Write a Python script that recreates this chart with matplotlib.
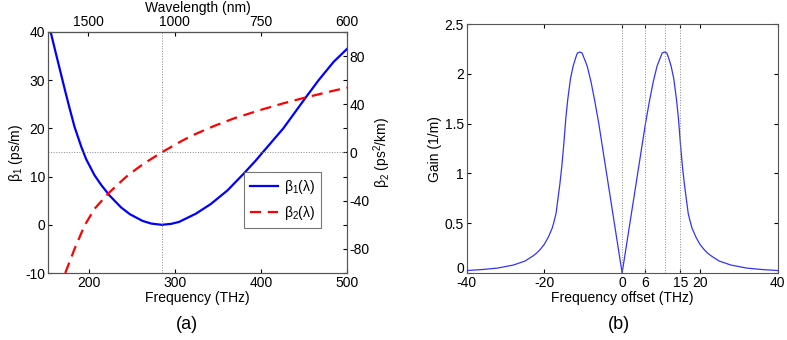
import matplotlib
matplotlib.use("Agg")
import matplotlib.pyplot as plt
import matplotlib.transforms as mtransforms

plt.rcParams['font.family'] = ['Liberation Sans', 'DejaVu Sans']
plt.rcParams['font.size'] = 10
plt.rcParams['axes.unicode_minus'] = False
plt.rcParams['mathtext.fontset'] = 'custom'
plt.rcParams['mathtext.rm'] = 'Liberation Sans'

# (a) dispersion
freq_b1 = [155, 160.7, 166.5, 172.3, 178, 183.8, 191.6, 197.3, 206.9, 215, 224.3, 237.8,
           248, 262.8, 273, 285, 296, 305, 324.5, 341.8, 361, 380, 393.9, 402,
           426, 452, 467, 484.4, 500]
beta1 = [40.8, 36.6, 32.4, 28.2, 24.2, 20.3, 16.2, 13.6, 10.3, 8.2, 6.1, 3.6,
         2.2, 0.8, 0.25, 0.0, 0.2, 0.6, 2.3, 4.3, 7.1, 10.6, 13.3, 15.0,
         20.0, 26.4, 30.0, 33.8, 36.5]
freq_b2 = [173, 183.8, 195.4, 207, 224.3, 241.6, 247.4, 260.9, 266.7, 284.7, 303.2, 309,
           322.5, 345.7, 368.8, 399.6, 426.6, 451.7, 476.9, 500]
beta2 = [-100, -80, -60.6, -46.7, -33, -21.5, -18, -10.9, -8.1, 0, 7.6, 9.9,
         14.8, 22.0, 28.3, 35.3, 40.9, 45.6, 50.0, 53.9]
zdw_freq = 284.7
wl_ticks = [1500, 1000, 750, 600]

# (b) gain spectrum
offset = [-40, -36, -32, -28, -25, -23, -22, -21, -20, -19, -18, -17.5, -17, -16, -15.5, -15,
          -14.5, -14, -13.3, -12.6, -11.8, -11.5, -10.9, -10.3, -10, -9, -8, -7, -6, -5, -4,
          -3, -2, -1, 0,
          1, 2, 3, 4, 5, 6, 7, 8, 9, 10, 10.3, 10.9, 11.5, 11.8, 12.6, 13.3, 14, 14.5, 15,
          15.5, 16, 17, 17.5, 18, 19, 20, 21, 22, 23, 25, 28, 32, 36, 40]
gain = [0.025, 0.035, 0.05, 0.08, 0.12, 0.17, 0.2, 0.24, 0.29, 0.36, 0.45, 0.52, 0.6, 0.9, 1.08, 1.3,
        1.55, 1.74, 1.95, 2.08, 2.18, 2.21, 2.22, 2.21, 2.18, 2.08, 1.92, 1.72, 1.5, 1.25, 1.0,
        0.75, 0.5, 0.25, 0.0,
        0.25, 0.5, 0.75, 1.0, 1.25, 1.5, 1.72, 1.92, 2.08, 2.18, 2.21, 2.22, 2.21, 2.18, 2.08, 1.95, 1.74, 1.55, 1.3,
        1.08, 0.9, 0.6, 0.52, 0.45, 0.36, 0.29, 0.24, 0.2, 0.17, 0.12, 0.08, 0.05, 0.035, 0.025]
marked = [0, 6, 11, 15]

spine_col = '#555555'
dot_col = '#888888'

fig = plt.figure(figsize=(7.87, 3.4), dpi=100)

# ----- panel (a)
ax1 = fig.add_axes([0.061, 0.197, 0.380, 0.709])
ax2 = ax1.twinx()
ax1.plot(freq_b1, beta1, color='#0000ff', lw=1.6, label=r'β$_\mathregular{1}$(λ)')
ax2.plot(freq_b2, beta2, color='#ff0000', lw=1.6, ls=(0, (5, 3)), label=r'β$_\mathregular{2}$(λ)')
ax1.axvline(zdw_freq, color=dot_col, lw=0.7, ls=':')
ax2.axhline(0, color=dot_col, lw=0.7, ls=':')
ax1.set_xlim(153, 500)
ax1.set_ylim(-10, 40)
ax2.set_ylim(-100, 100)
ax1.set_xticks([200, 300, 400, 500])
ax1.set_yticks([-10, 0, 10, 20, 30, 40])
ax2.set_yticks([-80, -40, 0, 40, 80])
ax1.set_xlabel('Frequency (THz)', labelpad=1)
ax1.set_ylabel(r'β$_\mathregular{1}$ (ps/m)', labelpad=0)
ax2.set_ylabel(r'β$_\mathregular{2}$ (ps$^\mathregular{2}$/km)', labelpad=1)
ax1.tick_params(direction='in', length=3, top=False, right=True, pad=2)
ax2.tick_params(direction='in', length=3, pad=2)

def f2wl(x):
    return 299792.458 / x

top = ax1.secondary_xaxis('top', functions=(f2wl, f2wl))
top.set_xticks(wl_ticks)
top.set_xticklabels([str(w) for w in wl_ticks])
top.tick_params(direction='in', length=3, pad=2)
top.set_xlabel('Wavelength (nm)', labelpad=2)

for a in (ax1, ax2):
    for s in a.spines.values():
        s.set_color(spine_col)
top.spines['top'].set_color(spine_col)

h1, l1 = ax1.get_legend_handles_labels()
h2, l2 = ax2.get_legend_handles_labels()
leg = ax2.legend(h1 + h2, l1 + l2, loc='lower right', bbox_to_anchor=(0.913, 0.187),
                 borderaxespad=0, fancybox=False, edgecolor=spine_col, handlelength=2.0,
                 handletextpad=0.4, borderpad=0.45, labelspacing=0.55, fontsize=10)
leg.get_frame().set_linewidth(0.8)

fig.text(0.238, 0.02, '(a)', ha='center', va='bottom', fontsize=13)

# ----- panel (b)
ax3 = fig.add_axes([0.593, 0.197, 0.395, 0.732])
ax3.plot(offset, gain, color='#3333ff', lw=0.9)
for m in marked:
    ax3.axvline(m, color=dot_col, lw=0.7, ls=':')
ax3.set_xlim(-40, 40)
ax3.set_ylim(0, 2.5)
ax3.set_xticks([-40, -20, 0, 6, 15, 20, 40])
ax3.set_yticks([0, 0.5, 1, 1.5, 2, 2.5])
ax3.set_yticklabels(['0', '0.5', '1', '1.5', '2', '2.5'])
ax3.set_xlabel('Frequency offset (THz)', labelpad=1)
ax3.set_ylabel('Gain (1/m)', labelpad=2)
ax3.tick_params(direction='in', length=3, top=True, right=True, pad=2)
for s in ax3.spines.values():
    s.set_color(spine_col)
# lift the "0" a little so it sits above "-40", as in the original
shift = mtransforms.ScaledTranslation(0, 4 / 72, fig.dpi_scale_trans)
ax3.get_yticklabels()[0].set_transform(ax3.get_yticklabels()[0].get_transform() + shift)

fig.text(0.787, 0.02, '(b)', ha='center', va='bottom', fontsize=13)

fig.savefig('out.png', dpi=100)
